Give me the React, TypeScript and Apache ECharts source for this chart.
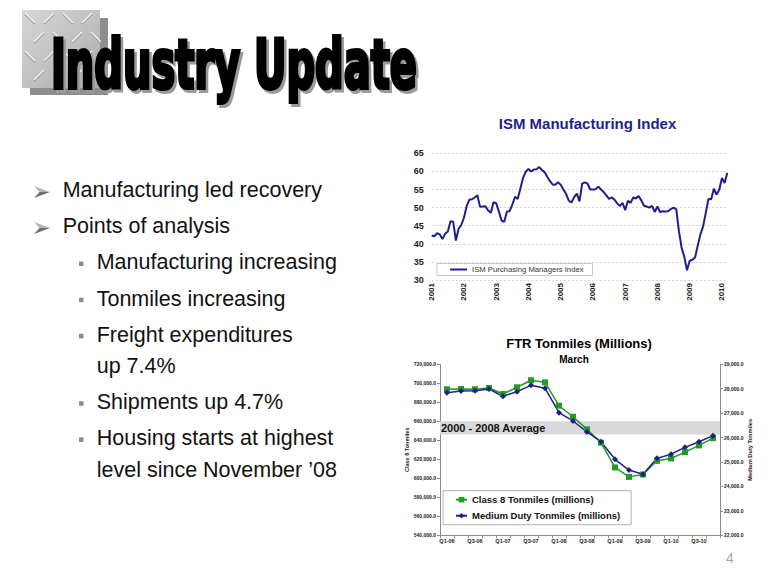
import React, { useEffect, useRef } from "react";
import * as echarts from "echarts";

const FONT = '"Liberation Sans", Arial, Helvetica, sans-serif';

const pageTitle = "Industry Update";
const pageNumber = "4";

const bulletItems = [
  { level: 1, lines: ["Manufacturing led recovery"] },
  { level: 1, lines: ["Points of analysis"] },
  { level: 2, lines: ["Manufacturing increasing"] },
  { level: 2, lines: ["Tonmiles increasing"] },
  { level: 2, lines: ["Freight expenditures", "up 7.4%"] },
  { level: 2, lines: ["Shipments up 4.7%"] },
  { level: 2, lines: ["Housing starts at highest", "level since November \u201908"] },
];

const ismTitle = "ISM Manufacturing Index";
const ismSeriesName = "ISM Purchasing Managers Index";
const ismStartYear = 2001;
const ismValues = [
  42.3, 42.1, 42.9, 42.6, 41.3, 42.8, 43.4, 46.2, 46.1, 40.9, 44.2, 45.2,
  47.2, 50.4, 52.2, 52.3, 52.8, 53.4, 50.2, 50.3, 50.4, 49.2, 48.6, 51.5,
  51.2, 48.9, 46.4, 46.1, 48.9, 49.0, 50.8, 53.0, 52.4, 55.3, 58.2, 59.9,
  60.7, 60.0, 60.5, 60.6, 61.2, 60.4, 59.8, 58.5, 57.3, 56.4, 56.3, 57.0,
  56.3, 55.0, 53.8, 51.9, 51.4, 52.9, 53.9, 51.7, 56.6, 57.0, 56.6, 55.0,
  55.0, 55.1, 55.8, 55.0, 54.3, 53.4, 52.4, 52.8, 52.2, 51.2, 50.4, 51.3,
  49.3, 51.9, 51.3, 52.8, 52.5, 53.2, 52.0, 50.5, 50.3, 50.0, 50.5, 48.8,
  50.3, 48.8, 49.0, 48.9, 49.0, 49.6, 50.0, 49.6, 43.5, 38.9, 36.4, 32.7,
  35.3, 35.6, 36.2, 39.5, 42.6, 44.8, 48.6, 52.4, 52.3, 55.2, 53.6, 54.9,
  58.2, 56.8, 59.6,
];
const ismYMin = 30;
const ismYMax = 65;
const ismYStep = 5;

const ftrTitle = "FTR Tonmiles (Millions)";
const ftrSubtitle = "March";
const quarterLabels = [
  "Q1-06", "Q2-06", "Q3-06", "Q4-06",
  "Q1-07", "Q2-07", "Q3-07", "Q4-07",
  "Q1-08", "Q2-08", "Q3-08", "Q4-08",
  "Q1-09", "Q2-09", "Q3-09", "Q4-09",
  "Q1-10", "Q2-10", "Q3-10", "Q4-10",
];
const class8Name = "Class 8 Tonmiles (millions)";
const class8Tonmiles = [
  693700, 694000, 693700, 695000, 688700, 695800, 703200, 701000, 676400, 664800,
  651500, 637400, 611400, 601500, 604000, 618400, 620900, 627500, 634600, 642300,
];
const mediumDutyName = "Medium Duty Tonmiles (millions)";
const mediumDutyTonmiles = [
  27840, 27910, 27920, 27990, 27690, 27880, 28140, 28020, 27020, 26680,
  26230, 25830, 25110, 24670, 24500, 25150, 25320, 25600, 25830, 26080,
];
const averageLabel = "2000 - 2008 Average";
const averageBand = [646000, 660000];
const leftAxisName = "Class 8 Tonmiles";
const rightAxisName = "Medium Duty Tonmiles";
const leftAxisRange = [540000, 720000, 20000];
const rightAxisRange = [22000, 29000, 1000];

const NAVY = "#1f1f8c";
const GREEN = "#239a23";

const fmt1 = (v: number) =>
  v.toLocaleString("en-US", { minimumFractionDigits: 1, maximumFractionDigits: 1 });

function measure(text: string, font: string) {
  const c = document.createElement("canvas");
  const ctx = c.getContext("2d");
  if (!ctx) return text.length * 40;
  ctx.font = font;
  return ctx.measureText(text).width;
}

function txt(x: number, y: number, text: string, o: any = {}) {
  const align = o.align || "left";
  return {
    type: "text",
    x,
    y,
    scaleX: o.scaleX || 1,
    z: o.z || 10,
    style: {
      text,
      fill: o.fill || "#000",
      fontSize: o.fontSize || 12,
      fontWeight: o.fontWeight || "normal",
      fontFamily: o.fontFamily || FONT,
      stroke: o.stroke,
      lineWidth: o.lineWidth,
      lineJoin: "round",
      align,
      textAlign: align,
      verticalAlign: "middle",
      textVerticalAlign: "middle",
    },
  };
}

export default function App() {
  const ref = useRef<HTMLDivElement>(null);

  useEffect(() => {
    if (!ref.current) return;
    const chart = echarts.init(ref.current, null, { renderer: "svg" });

    const els: any[] = [];
    // metal plate with shadow
    els.push({ type: "rect", z: 1, shape: { x: 30, y: 18, width: 78, height: 77 }, style: { fill: "#8e8e8e" } });
    els.push({
      type: "rect",
      z: 2,
      shape: { x: 22, y: 10, width: 78, height: 78 },
      style: {
        fill: {
          type: "linear", x: 0, y: 0, x2: 1, y2: 1,
          colorStops: [
            { offset: 0, color: "#d6d6d6" },
            { offset: 0.5, color: "#c2c2c2" },
            { offset: 1, color: "#a9a9a9" },
          ],
        },
      },
    });
    for (let r = 0; r < 4; r++) {
      for (let c = 0; c < 4; c++) {
        const cx = 30 + c * 19 + (r % 2) * 9;
        const cy = 18 + r * 19;
        const dir = (r + c) % 2 === 0 ? 1 : -1;
        const d = 5;
        els.push({ type: "line", z: 3, shape: { x1: cx - d, y1: cy - d * dir + 1, x2: cx + d, y2: cy + d * dir + 1 }, style: { stroke: "#8a8a8a", lineWidth: 1.6 } });
        els.push({ type: "line", z: 3, shape: { x1: cx - d, y1: cy - d * dir, x2: cx + d, y2: cy + d * dir }, style: { stroke: "#f4f4f4", lineWidth: 1.4 } });
      }
    }
    // page title
    const tfs = 68;
    const tw = measure(pageTitle, `bold ${tfs}px "DejaVu Sans"`);
    const sx = 366 / tw;
    els.push(txt(53.5, 67.5, pageTitle, { fontSize: tfs, fontWeight: "bold", fontFamily: '"DejaVu Sans"', fill: "#9a9a9a", scaleX: sx, z: 4, stroke: "#9a9a9a", lineWidth: 4 }));
    els.push(txt(51, 64.5, pageTitle, { fontSize: tfs, fontWeight: "bold", fontFamily: '"DejaVu Sans"', fill: "#000", scaleX: sx, z: 5, stroke: "#000", lineWidth: 4 }));

    // bullets
    let base = 197.7;
    bulletItems.forEach((it) => {
      if (it.level === 1) {
        const c = base - 5.7;
        els.push({ type: "polygon", z: 6, shape: { points: [[34, c - 6], [50, c], [39.5, c]] }, style: { fill: "#b4b4b4" } });
        els.push({ type: "polygon", z: 6, shape: { points: [[39.5, c], [50, c], [34, c + 6]] }, style: { fill: "#6e6e6e" } });
      } else {
        els.push({ type: "rect", z: 6, shape: { x: 79, y: base - 8.3, width: 4.5, height: 4.5 }, style: { fill: "#8c8c8c" } });
      }
      const tx = it.level === 1 ? 62.7 : 96.7;
      it.lines.forEach((ln, k) => {
        els.push(txt(tx, base - 7.45 + k * 31.4, ln, { fontSize: 21.5, fill: "#111" }));
      });
      base += 36.1 + (it.lines.length - 1) * 31.4;
    });

    // chart titles
    els.push(txt(587.5, 123.1, ismTitle, { fontSize: 15, fontWeight: "bold", fill: NAVY, align: "center" }));
    els.push(txt(579, 343.8, ftrTitle, { fontSize: 13, fontWeight: "bold", fill: "#000", align: "center" }));
    els.push(txt(574, 359.2, ftrSubtitle, { fontSize: 10, fontWeight: "bold", fill: "#000", align: "center" }));
    els.push(txt(730, 558.4, pageNumber, { fontSize: 14, fill: "#a8a8a8", align: "center" }));

    const ismCategories = ismValues.map(
      (_, i) => `${ismStartYear + Math.floor(i / 12)}-${String((i % 12) + 1).padStart(2, "0")}`
    );

    const option: any = {
      animation: false,
      backgroundColor: "#fff",
      textStyle: { fontFamily: FONT },
      graphic: { elements: els },
      grid: [
        { left: 431.7, top: 153.3, width: 295.6, height: 126.7, containLabel: false },
        { left: 440, top: 364.3, width: 280, height: 171, containLabel: false },
      ],
      legend: [
        {
          data: [{ name: ismSeriesName, icon: "rect" }],
          left: 437,
          top: 263.5,
          orient: "horizontal",
          padding: [2, 9, 2, 13],
          itemWidth: 17,
          itemHeight: 2,
          borderColor: "#c8c8c8",
          borderWidth: 1,
          backgroundColor: "#fff",
          textStyle: { fontSize: 7.7, color: "#333", fontFamily: FONT, lineHeight: 8 },
        },
        {
          data: [class8Name, mediumDutyName],
          left: 443,
          top: 490.7,
          orient: "vertical",
          padding: [3, 11, 3, 12],
          itemGap: 4,
          itemWidth: 11,
          itemHeight: 7,
          borderColor: "#b0b0b0",
          borderWidth: 1,
          backgroundColor: "#fff",
          textStyle: { fontSize: 9.5, fontWeight: "bold", color: "#111", fontFamily: FONT, lineHeight: 12 },
        },
      ],
      xAxis: [
        {
          type: "category",
          gridIndex: 0,
          data: ismCategories,
          boundaryGap: false,
          axisLine: { show: false },
          axisTick: { show: false },
          splitLine: { show: false },
          axisLabel: {
            interval: (i: number) => i % 12 === 0,
            formatter: (v: string) => v.slice(0, 4),
            rotate: 90,
            margin: 3,
            fontSize: 8,
            fontWeight: "bold",
            color: "#222",
          },
        },
        {
          type: "category",
          gridIndex: 1,
          data: quarterLabels,
          boundaryGap: true,
          axisLine: { show: true, lineStyle: { color: "#8c8c8c", width: 1 } },
          axisTick: { show: true, length: 3, interval: 0, lineStyle: { color: "#8c8c8c" } },
          splitLine: { show: false },
          axisLabel: { interval: 1, margin: 3, fontSize: 5.5, fontWeight: "bold", color: "#222" },
        },
      ],
      yAxis: [
        {
          type: "value",
          gridIndex: 0,
          min: ismYMin,
          max: ismYMax,
          interval: ismYStep,
          axisLine: { show: false },
          axisTick: { show: false },
          splitLine: { show: true, lineStyle: { color: "#d2d2d2", type: [2, 2], width: 1 } },
          axisLabel: { margin: 8, fontSize: 9, fontWeight: "bold", color: "#222" },
        },
        {
          type: "value",
          gridIndex: 1,
          position: "left",
          min: leftAxisRange[0],
          max: leftAxisRange[1],
          interval: leftAxisRange[2],
          name: leftAxisName,
          nameLocation: "middle",
          nameRotate: 90,
          nameGap: 27,
          nameTextStyle: { fontSize: 5.5, fontWeight: "bold", color: "#222" },
          axisLine: { show: true, lineStyle: { color: "#8c8c8c", width: 1 } },
          axisTick: { show: true, length: 3, lineStyle: { color: "#8c8c8c" } },
          splitLine: { show: false },
          axisLabel: { margin: 4, fontSize: 5, fontWeight: "bold", color: "#222", formatter: (v: number) => fmt1(v) },
        },
        {
          type: "value",
          gridIndex: 1,
          position: "right",
          min: rightAxisRange[0],
          max: rightAxisRange[1],
          interval: rightAxisRange[2],
          name: rightAxisName,
          nameLocation: "middle",
          nameRotate: 90,
          nameGap: 25,
          nameTextStyle: { fontSize: 5.7, fontWeight: "bold", color: "#222" },
          axisLine: { show: true, lineStyle: { color: "#8c8c8c", width: 1 } },
          axisTick: { show: true, length: 3, lineStyle: { color: "#8c8c8c" } },
          splitLine: { show: false },
          axisLabel: { margin: 4, fontSize: 5, fontWeight: "bold", color: "#222", formatter: (v: number) => fmt1(v) },
        },
      ],
      series: [
        {
          name: ismSeriesName,
          type: "line",
          xAxisIndex: 0,
          yAxisIndex: 0,
          data: ismValues,
          symbol: "none",
          itemStyle: { color: NAVY },
          lineStyle: { color: NAVY, width: 2 },
        },
        {
          name: class8Name,
          type: "line",
          xAxisIndex: 1,
          yAxisIndex: 1,
          data: class8Tonmiles,
          symbol: "rect",
          symbolSize: 6,
          itemStyle: { color: GREEN },
          lineStyle: { color: GREEN, width: 1.5 },
          markArea: {
            silent: true,
            itemStyle: { color: "#d9d9d9" },
            label: {
              show: true,
              position: "insideLeft",
              distance: 1,
              formatter: averageLabel,
              fontSize: 11,
              fontWeight: "bold",
              color: "#111",
            },
            data: [[{ yAxis: averageBand[1] }, { yAxis: averageBand[0] }]],
          },
        },
        {
          name: mediumDutyName,
          type: "line",
          xAxisIndex: 1,
          yAxisIndex: 2,
          data: mediumDutyTonmiles,
          symbol: "diamond",
          symbolSize: 6,
          itemStyle: { color: NAVY },
          lineStyle: { color: NAVY, width: 1.5 },
        },
      ],
    };

    chart.setOption(option);
    return () => chart.dispose();
  }, []);

  return (
    <div
      ref={ref}
      style={{ position: "absolute", left: 0, top: 0, width: 780, height: 585, background: "#fff" }}
    />
  );
}
